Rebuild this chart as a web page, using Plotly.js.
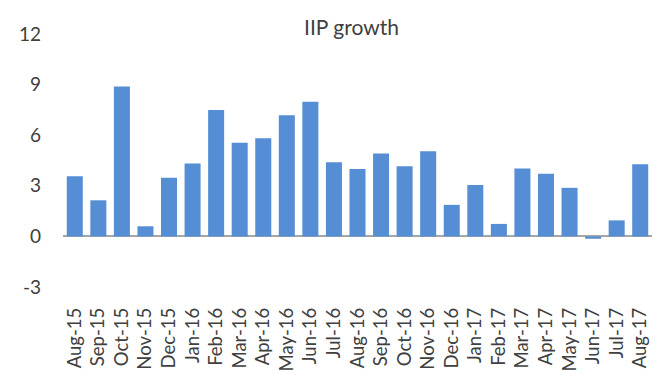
<!DOCTYPE html>
<html>
<head>
<meta charset="utf-8">
<script src="https://cdn.plot.ly/plotly-3.0.1.min.js"></script>
<style>html,body{margin:0;padding:0;background:#fff;}#chart{width:662px;height:374px;}</style>
</head>
<body>
<div id="chart"></div>
<script>
const months = ["Aug-15","Sep-15","Oct-15","Nov-15","Dec-15","Jan-16","Feb-16","Mar-16","Apr-16","May-16","Jun-16","Jul-16","Aug-16","Sep-16","Oct-16","Nov-16","Dec-16","Jan-17","Feb-17","Mar-17","Apr-17","May-17","Jun-17","Jul-17","Aug-17"];
const iipGrowth = [3.56,2.14,8.88,0.6,3.47,4.32,7.49,5.55,5.82,7.19,7.98,4.4,4.0,4.91,4.16,5.05,1.87,3.05,0.74,4.02,3.71,2.88,-0.14,0.95,4.28];
const yTicks = [-3,0,3,6,9,12];
const yTickLabels = ["-3","0","3","6","9","12"];

const trace = {
  type: 'bar',
  x: months,
  y: iipGrowth,
  marker: {color: '#558ED5'},
  hoverinfo: 'x+y'
};
const layout = {
  width: 662, height: 374,
  margin: {l: 63, r: 10, t: 34, b: 87},
  paper_bgcolor: '#fff', plot_bgcolor: '#fff',
  font: {family: 'Lato, "Open Sans", sans-serif', color: '#404040'},
  title: {text: 'IIP growth', font: {size: 21, color: '#404040'}, x: 0.531, xref: 'container', xanchor: 'center', y: 0.925, yref: 'container', yanchor: 'middle'},
  bargap: 0.32,
  showlegend: false,
  xaxis: {
    type: 'category', tickangle: -90, showgrid: false, showline: false, zeroline: false,
    tickfont: {size: 18.5, color: '#404040'}, ticks: '', ticklabelstandoff: 16
  },
  yaxis: {
    range: [-3, 12], tickvals: yTicks, ticktext: yTickLabels, showgrid: false, showline: false,
    zeroline: true, zerolinecolor: '#A6A6A6', zerolinewidth: 2,
    tickfont: {size: 19, color: '#404040'}, ticks: '', ticklabelstandoff: 21
  }
};
Plotly.newPlot('chart', [trace], layout, {displayModeBar: false, staticPlot: true});
</script>
</body>
</html>
